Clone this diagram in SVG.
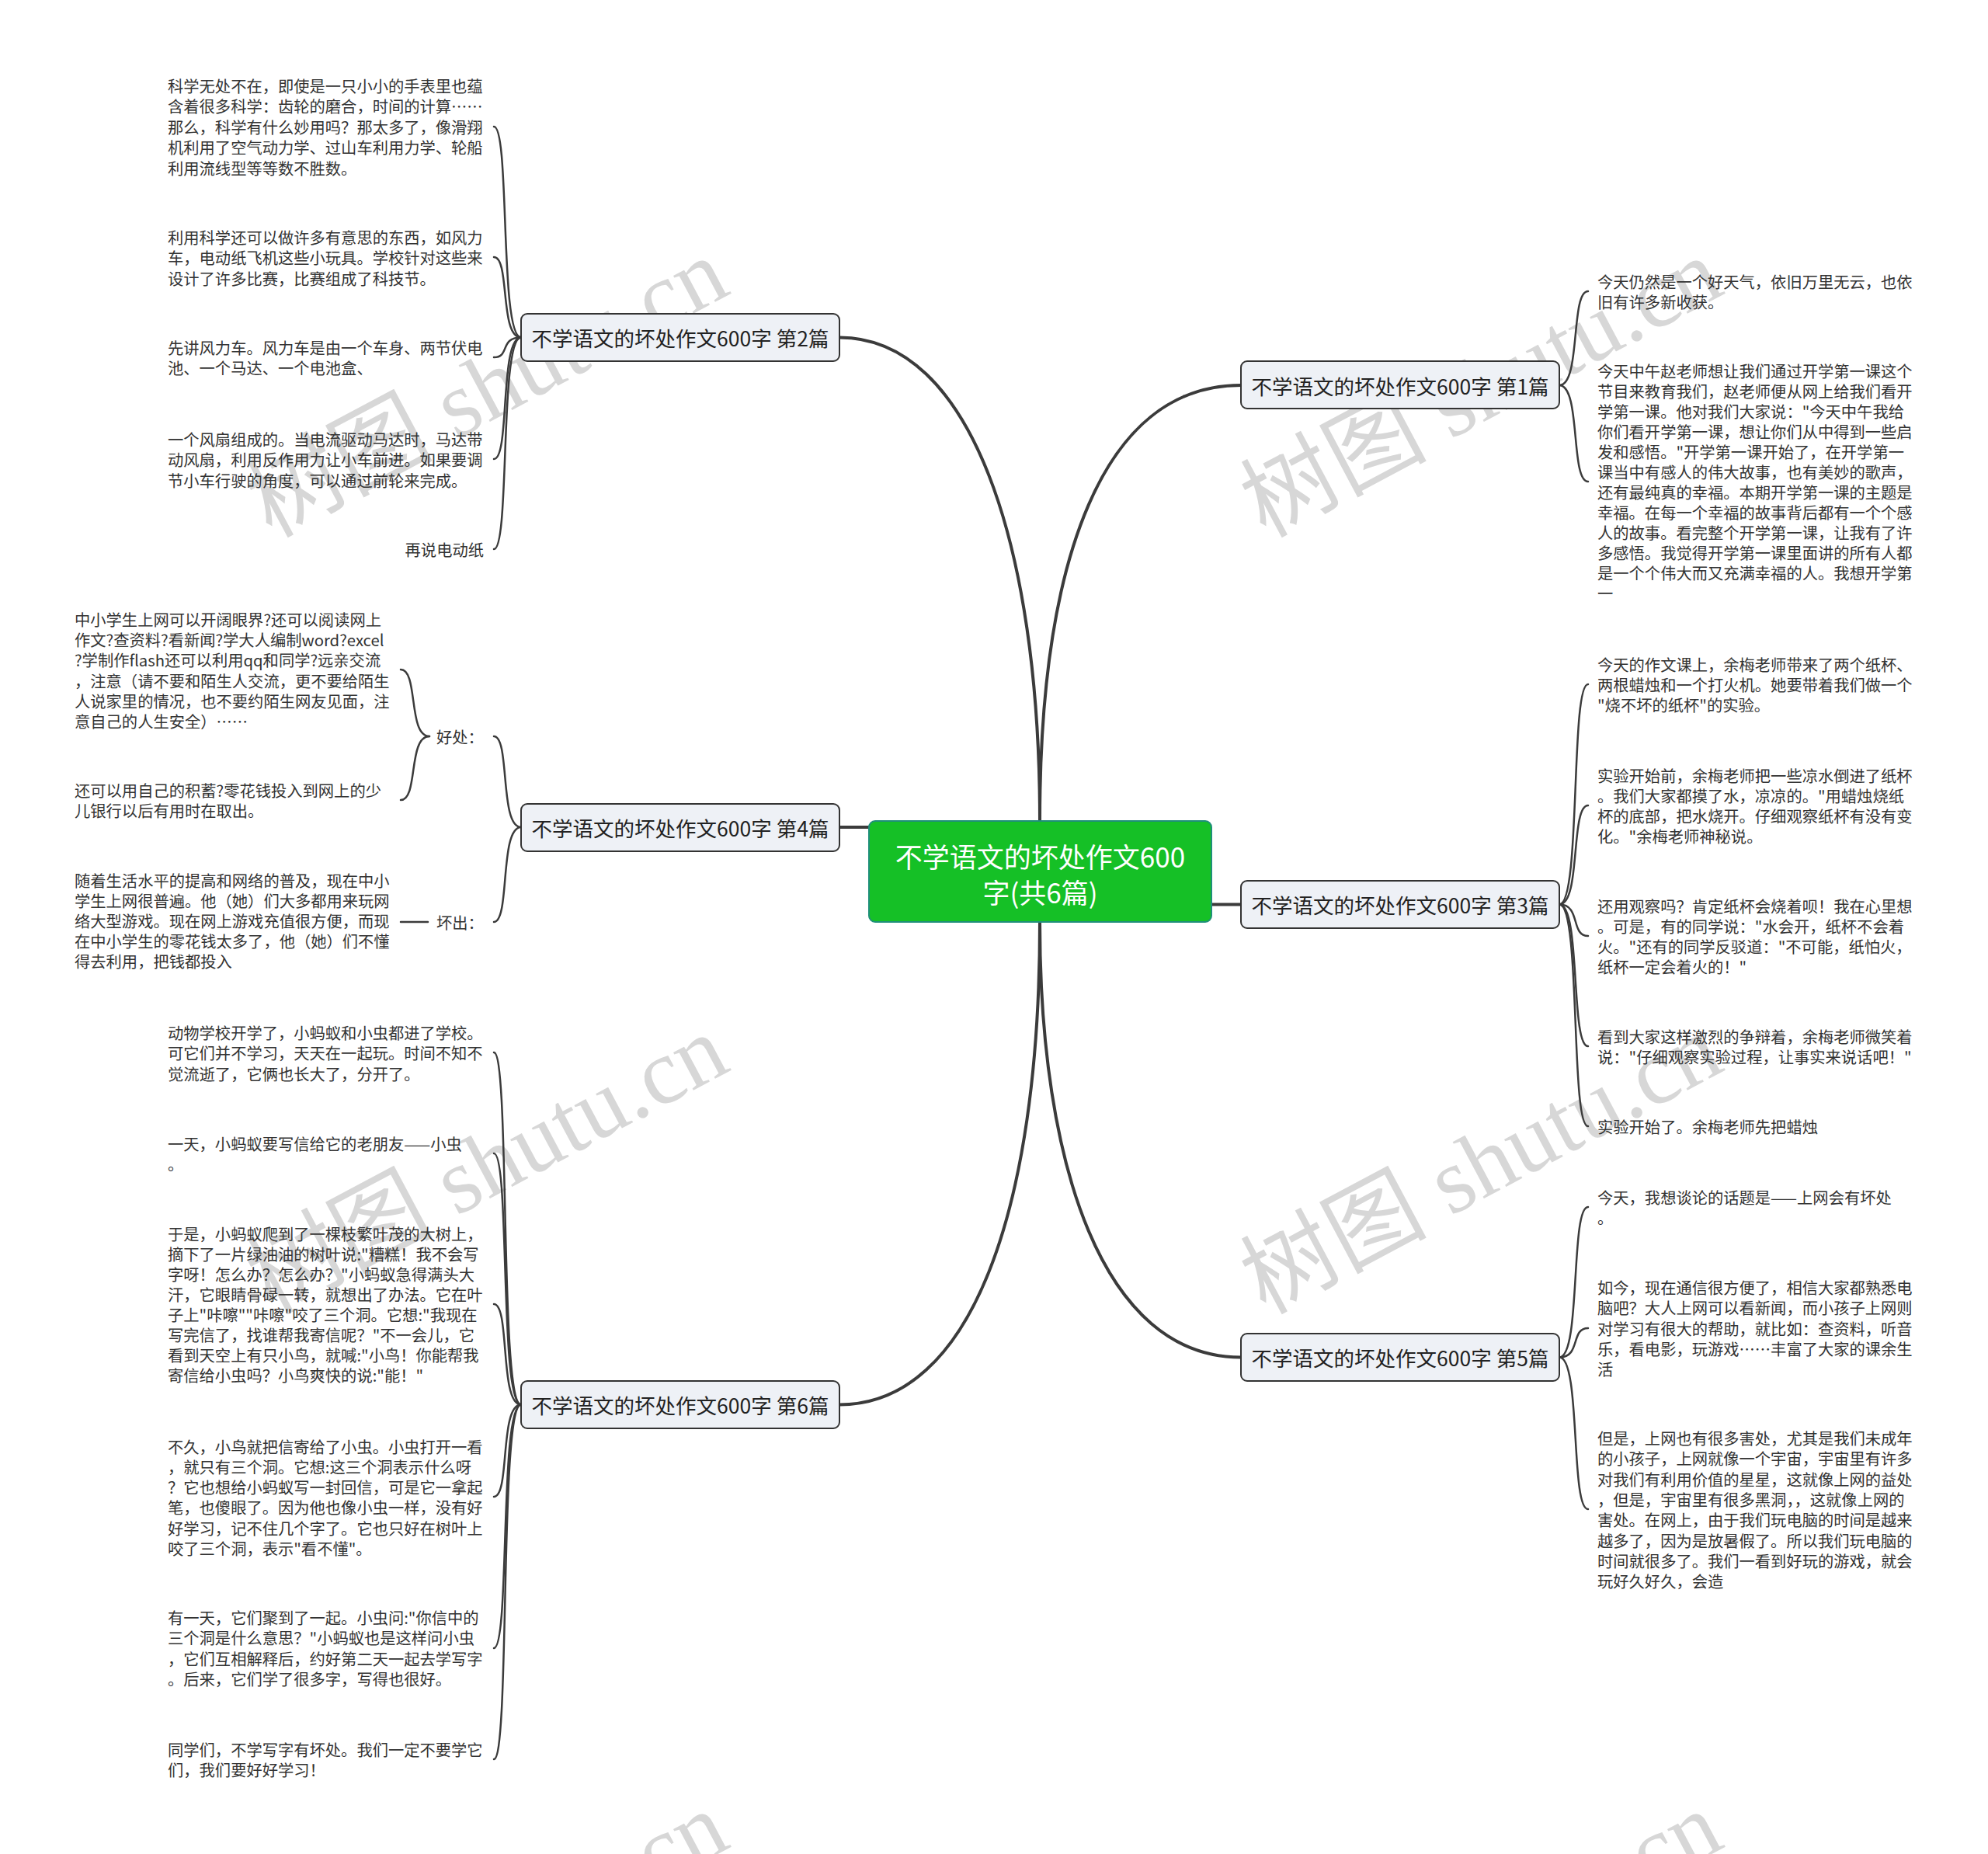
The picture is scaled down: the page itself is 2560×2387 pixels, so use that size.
<svg xmlns="http://www.w3.org/2000/svg" width="2560" height="2387" viewBox="0 0 2560 2387">
<style>
.wm{font-family:"Liberation Serif","Noto Sans CJK SC",serif;font-size:120px;fill:#d7d7d7}
.leaf{font-family:"Noto Sans CJK SC","Noto Sans",sans-serif;font-size:20.3px;fill:#333333;dominant-baseline:central}
.node rect{fill:#eef1f6;stroke:#333333;stroke-width:2}
.node text{font-family:"Noto Sans CJK SC","Noto Sans",sans-serif;font-size:26.5px;fill:#222222;text-anchor:middle;dominant-baseline:central}
.root rect{fill:#15c026;stroke:#1f8f7a;stroke-width:2}
.root text{font-family:"Noto Sans CJK SC","Noto Sans",sans-serif;font-size:35px;fill:#ffffff;text-anchor:middle;dominant-baseline:central}
.link{fill:none;stroke:#3b3b3b;stroke-width:2.5;stroke-linecap:round}
.main{stroke-width:4}
</style>
<rect width="2560" height="2387" fill="#ffffff"/>
<g id="watermarks">
<text class="wm" transform="translate(349,693) rotate(-28)">树图 shutu.cn</text>
<text class="wm" transform="translate(1629,693) rotate(-28)">树图 shutu.cn</text>
<text class="wm" transform="translate(349,1693) rotate(-28)">树图 shutu.cn</text>
<text class="wm" transform="translate(1629,1693) rotate(-28)">树图 shutu.cn</text>
<text class="wm" transform="translate(349,2693) rotate(-28)">树图 shutu.cn</text>
<text class="wm" transform="translate(1629,2693) rotate(-28)">树图 shutu.cn</text>
</g>
<g id="connectors">
<path class="link main" d="M1339 1057 C1339 720,1420 496,1598 496"/>
<path class="link main" d="M1339 1057 C1339 700,1250 434.5,1081 434.5"/>
<path class="link main" d="M1560 1164.5 L1598 1164.5"/>
<path class="link main" d="M1119 1065 L1081 1065"/>
<path class="link main" d="M1339 1187 C1339 1500,1420 1747.5,1598 1747.5"/>
<path class="link main" d="M1339 1187 C1339 1560,1250 1808.5,1081 1808.5"/>
<path class="link" d="M671 434.5 C643 434.5,657 163,636 163"/>
<path class="link" d="M671 434.5 C643 434.5,657 331,636 331"/>
<path class="link" d="M671 434.5 C643 434.5,657 460,636 460"/>
<path class="link" d="M671 434.5 C643 434.5,657 591,636 591"/>
<path class="link" d="M671 434.5 C643 434.5,657 707,636 707"/>
<path class="link" d="M671 1065 C643 1065,657 948,636 948"/>
<path class="link" d="M671 1065 C643 1065,657 1187,636 1187"/>
<path class="link" d="M553 948 C525 948,539 862,516 862"/>
<path class="link" d="M553 948 C525 948,539 1030,516 1030"/>
<path class="link" d="M551 1187 L516 1187"/>
<path class="link" d="M671 1808.5 C643 1808.5,657 1355,636 1355"/>
<path class="link" d="M671 1808.5 C643 1808.5,657 1485,636 1485"/>
<path class="link" d="M671 1808.5 C643 1808.5,657 1679,636 1679"/>
<path class="link" d="M671 1808.5 C643 1808.5,657 1927,636 1927"/>
<path class="link" d="M671 1808.5 C643 1808.5,657 2122,636 2122"/>
<path class="link" d="M671 1808.5 C643 1808.5,657 2265,636 2265"/>
<path class="link" d="M2008 496 C2036 496,2022 375,2045 375"/>
<path class="link" d="M2008 496 C2036 496,2022 620,2045 620"/>
<path class="link" d="M2008 1164.5 C2036 1164.5,2022 881,2045 881"/>
<path class="link" d="M2008 1164.5 C2036 1164.5,2022 1037,2045 1037"/>
<path class="link" d="M2008 1164.5 C2036 1164.5,2022 1205,2045 1205"/>
<path class="link" d="M2008 1164.5 C2036 1164.5,2022 1347,2045 1347"/>
<path class="link" d="M2008 1164.5 C2036 1164.5,2022 1450,2045 1450"/>
<path class="link" d="M2008 1747.5 C2036 1747.5,2022 1554,2045 1554"/>
<path class="link" d="M2008 1747.5 C2036 1747.5,2022 1710,2045 1710"/>
<path class="link" d="M2008 1747.5 C2036 1747.5,2022 1943,2045 1943"/>
</g>
<g id="root" class="root">
<rect x="1119" y="1057" width="441" height="130" rx="8"/>
<text><tspan x="1339.5" y="1101">不学语文的坏处作文600</tspan><tspan x="1339.5" y="1147">字(共6篇)</tspan></text>
</g>
<g id="n1" class="node"><rect x="1598" y="465" width="410" height="61" rx="8"/><text x="1803" y="496">不学语文的坏处作文600字 第1篇</text></g>
<g id="n2" class="node"><rect x="671" y="404" width="410" height="61" rx="8"/><text x="876" y="434.5">不学语文的坏处作文600字 第2篇</text></g>
<g id="n3" class="node"><rect x="1598" y="1134" width="410" height="61" rx="8"/><text x="1803" y="1164.5">不学语文的坏处作文600字 第3篇</text></g>
<g id="n4" class="node"><rect x="671" y="1035" width="410" height="61" rx="8"/><text x="876" y="1065.5">不学语文的坏处作文600字 第4篇</text></g>
<g id="n5" class="node"><rect x="1598" y="1717" width="410" height="61" rx="8"/><text x="1803" y="1747.5">不学语文的坏处作文600字 第5篇</text></g>
<g id="n6" class="node"><rect x="671" y="1778" width="410" height="61" rx="8"/><text x="876" y="1808.5">不学语文的坏处作文600字 第6篇</text></g>
<g id="n2-leaves">
<text class="leaf"><tspan x="216" y="110">科学无处不在，即使是一只小小的手表里也蕴</tspan><tspan x="216" y="136">含着很多科学：齿轮的磨合，时间的计算……</tspan><tspan x="216" y="163">那么，科学有什么妙用吗？那太多了，像滑翔</tspan><tspan x="216" y="189">机利用了空气动力学、过山车利用力学、轮船</tspan><tspan x="216" y="216">利用流线型等等数不胜数。</tspan></text>
<text class="leaf"><tspan x="216" y="305">利用科学还可以做许多有意思的东西，如风力</tspan><tspan x="216" y="331">车，电动纸飞机这些小玩具。学校针对这些来</tspan><tspan x="216" y="358">设计了许多比赛，比赛组成了科技节。</tspan></text>
<text class="leaf"><tspan x="216" y="447">先讲风力车。风力车是由一个车身、两节伏电</tspan><tspan x="216" y="473">池、一个马达、一个电池盒、</tspan></text>
<text class="leaf"><tspan x="216" y="565">一个风扇组成的。当电流驱动马达时，马达带</tspan><tspan x="216" y="591">动风扇，利用反作用力让小车前进。如果要调</tspan><tspan x="216" y="618">节小车行驶的角度，可以通过前轮来完成。</tspan></text>
<text class="leaf" x="623" y="707" text-anchor="end">再说电动纸</text>
</g>
<g id="n4-leaves">
<text class="leaf" x="562" y="948">好处：</text>
<text class="leaf" x="562" y="1187">坏出：</text>
<text class="leaf"><tspan x="96" y="797">中小学生上网可以开阔眼界?还可以阅读网上</tspan><tspan x="96" y="823">作文?查资料?看新闻?学大人编制word?excel</tspan><tspan x="96" y="849">?学制作flash还可以利用qq和同学?远亲交流</tspan><tspan x="96" y="876">，注意（请不要和陌生人交流，更不要给陌生</tspan><tspan x="96" y="902">人说家里的情况，也不要约陌生网友见面，注</tspan><tspan x="96" y="928">意自己的人生安全）……</tspan></text>
<text class="leaf"><tspan x="96" y="1017">还可以用自己的积蓄?零花钱投入到网上的少</tspan><tspan x="96" y="1043">儿银行以后有用时在取出。</tspan></text>
<text class="leaf"><tspan x="96" y="1133">随着生活水平的提高和网络的普及，现在中小</tspan><tspan x="96" y="1159">学生上网很普遍。他（她）们大多都用来玩网</tspan><tspan x="96" y="1185">络大型游戏。现在网上游戏充值很方便，而现</tspan><tspan x="96" y="1211">在中小学生的零花钱太多了，他（她）们不懂</tspan><tspan x="96" y="1237">得去利用，把钱都投入</tspan></text>
</g>
<g id="n6-leaves">
<text class="leaf"><tspan x="216" y="1329">动物学校开学了，小蚂蚁和小虫都进了学校。</tspan><tspan x="216" y="1355">可它们并不学习，天天在一起玩。时间不知不</tspan><tspan x="216" y="1382">觉流逝了，它俩也长大了，分开了。</tspan></text>
<text class="leaf"><tspan x="216" y="1472">一天，小蚂蚁要写信给它的老朋友——小虫</tspan><tspan x="216" y="1498">。</tspan></text>
<text class="leaf"><tspan x="216" y="1588">于是，小蚂蚁爬到了一棵枝繁叶茂的大树上，</tspan><tspan x="216" y="1614">摘下了一片绿油油的树叶说:"糟糕！我不会写</tspan><tspan x="216" y="1640">字呀！怎么办？怎么办？"小蚂蚁急得满头大</tspan><tspan x="216" y="1666">汗，它眼睛骨碌一转，就想出了办法。它在叶</tspan><tspan x="216" y="1692">子上"咔嚓""咔嚓"咬了三个洞。它想:"我现在</tspan><tspan x="216" y="1718">写完信了，找谁帮我寄信呢？"不一会儿，它</tspan><tspan x="216" y="1744">看到天空上有只小鸟，就喊:"小鸟！你能帮我</tspan><tspan x="216" y="1770">寄信给小虫吗？小鸟爽快的说:"能！"</tspan></text>
<text class="leaf"><tspan x="216" y="1862">不久，小鸟就把信寄给了小虫。小虫打开一看</tspan><tspan x="216" y="1888">，就只有三个洞。它想:这三个洞表示什么呀</tspan><tspan x="216" y="1914">？它也想给小蚂蚁写一封回信，可是它一拿起</tspan><tspan x="216" y="1940">笔，也傻眼了。因为他也像小虫一样，没有好</tspan><tspan x="216" y="1967">好学习，记不住几个字了。它也只好在树叶上</tspan><tspan x="216" y="1993">咬了三个洞，表示"看不懂"。</tspan></text>
<text class="leaf"><tspan x="216" y="2082">有一天，它们聚到了一起。小虫问:"你信中的</tspan><tspan x="216" y="2108">三个洞是什么意思？"小蚂蚁也是这样问小虫</tspan><tspan x="216" y="2135">，它们互相解释后，约好第二天一起去学写字</tspan><tspan x="216" y="2161">。后来，它们学了很多字，写得也很好。</tspan></text>
<text class="leaf"><tspan x="216" y="2252">同学们，不学写字有坏处。我们一定不要学它</tspan><tspan x="216" y="2278">们，我们要好好学习！</tspan></text>
</g>
<g id="n1-leaves">
<text class="leaf"><tspan x="2057" y="362">今天仍然是一个好天气，依旧万里无云，也依</tspan><tspan x="2057" y="388">旧有许多新收获。</tspan></text>
<text class="leaf"><tspan x="2057" y="477">今天中午赵老师想让我们通过开学第一课这个</tspan><tspan x="2057" y="503">节目来教育我们，赵老师便从网上给我们看开</tspan><tspan x="2057" y="529">学第一课。他对我们大家说："今天中午我给</tspan><tspan x="2057" y="555">你们看开学第一课，想让你们从中得到一些启</tspan><tspan x="2057" y="581">发和感悟。"开学第一课开始了，在开学第一</tspan><tspan x="2057" y="607">课当中有感人的伟大故事，也有美妙的歌声，</tspan><tspan x="2057" y="633">还有最纯真的幸福。本期开学第一课的主题是</tspan><tspan x="2057" y="659">幸福。在每一个幸福的故事背后都有一个个感</tspan><tspan x="2057" y="685">人的故事。看完整个开学第一课，让我有了许</tspan><tspan x="2057" y="711">多感悟。我觉得开学第一课里面讲的所有人都</tspan><tspan x="2057" y="737">是一个个伟大而又充满幸福的人。我想开学第</tspan><tspan x="2057" y="763">一</tspan></text>
</g>
<g id="n3-leaves">
<text class="leaf"><tspan x="2057" y="855">今天的作文课上，余梅老师带来了两个纸杯、</tspan><tspan x="2057" y="881">两根蜡烛和一个打火机。她要带着我们做一个</tspan><tspan x="2057" y="907">"烧不坏的纸杯"的实验。</tspan></text>
<text class="leaf"><tspan x="2057" y="998">实验开始前，余梅老师把一些凉水倒进了纸杯</tspan><tspan x="2057" y="1024">。我们大家都摸了水，凉凉的。"用蜡烛烧纸</tspan><tspan x="2057" y="1050">杯的底部，把水烧开。仔细观察纸杯有没有变</tspan><tspan x="2057" y="1076">化。"余梅老师神秘说。</tspan></text>
<text class="leaf"><tspan x="2057" y="1166">还用观察吗？肯定纸杯会烧着呗！我在心里想</tspan><tspan x="2057" y="1192">。可是，有的同学说："水会开，纸杯不会着</tspan><tspan x="2057" y="1218">火。"还有的同学反驳道："不可能，纸怕火，</tspan><tspan x="2057" y="1244">纸杯一定会着火的！"</tspan></text>
<text class="leaf"><tspan x="2057" y="1334">看到大家这样激烈的争辩着，余梅老师微笑着</tspan><tspan x="2057" y="1360">说："仔细观察实验过程，让事实来说话吧！"</tspan></text>
<text class="leaf" x="2057" y="1450">实验开始了。余梅老师先把蜡烛</text>
</g>
<g id="n5-leaves">
<text class="leaf"><tspan x="2057" y="1541">今天，我想谈论的话题是——上网会有坏处</tspan><tspan x="2057" y="1567">。</tspan></text>
<text class="leaf"><tspan x="2057" y="1657">如今，现在通信很方便了，相信大家都熟悉电</tspan><tspan x="2057" y="1683">脑吧？大人上网可以看新闻，而小孩子上网则</tspan><tspan x="2057" y="1710">对学习有很大的帮助，就比如：查资料，听音</tspan><tspan x="2057" y="1736">乐，看电影，玩游戏……丰富了大家的课余生</tspan><tspan x="2057" y="1762">活</tspan></text>
<text class="leaf"><tspan x="2057" y="1851">但是，上网也有很多害处，尤其是我们未成年</tspan><tspan x="2057" y="1877">的小孩子，上网就像一个宇宙，宇宙里有许多</tspan><tspan x="2057" y="1904">对我们有利用价值的星星，这就像上网的益处</tspan><tspan x="2057" y="1930">，但是，宇宙里有很多黑洞，，这就像上网的</tspan><tspan x="2057" y="1956">害处。在网上，由于我们玩电脑的时间是越来</tspan><tspan x="2057" y="1983">越多了，因为是放暑假了。所以我们玩电脑的</tspan><tspan x="2057" y="2009">时间就很多了。我们一看到好玩的游戏，就会</tspan><tspan x="2057" y="2035">玩好久好久，会造</tspan></text>
</g>
</svg>
